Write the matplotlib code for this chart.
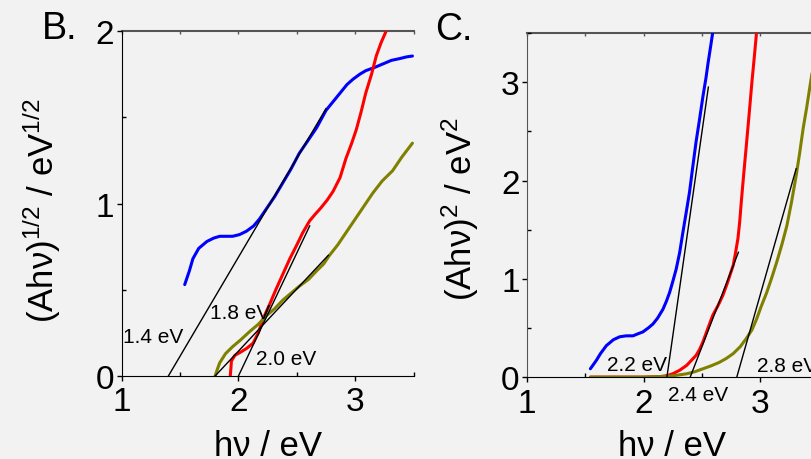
import matplotlib
matplotlib.use("Agg")
import matplotlib.pyplot as plt
from matplotlib.ticker import MultipleLocator

plt.rcParams['font.family'] = ['Liberation Sans', 'DejaVu Sans']
plt.rcParams['mathtext.default'] = 'regular'

BG = '#f2f2f2'

# panel B: (A hv)^(1/2) vs photon energy
b_blue_x = [1.54, 1.58, 1.61, 1.66, 1.73, 1.79, 1.84, 1.90, 1.95, 2.01, 2.07, 2.13, 2.18, 2.24, 2.31,
            2.38, 2.45, 2.52, 2.60, 2.67, 2.75, 2.81, 2.87, 2.93, 2.98, 3.04, 3.09, 3.17, 3.24, 3.31, 3.38, 3.44, 3.49]
b_blue_y = [0.53, 0.61, 0.68, 0.74, 0.78, 0.80, 0.81, 0.81, 0.81, 0.82, 0.84, 0.87, 0.91, 0.97, 1.04,
            1.12, 1.20, 1.29, 1.37, 1.44, 1.54, 1.59, 1.64, 1.69, 1.72, 1.75, 1.77, 1.79, 1.81, 1.83, 1.84, 1.85, 1.855]

b_red_x = [1.93, 1.935, 1.94, 1.97, 2.01, 2.07, 2.125, 2.17, 2.21, 2.27, 2.32, 2.38, 2.44, 2.50, 2.55,
           2.61, 2.66, 2.70, 2.76, 2.81, 2.87, 2.92, 2.97, 3.01, 3.05, 3.09, 3.14, 3.18, 3.22, 3.265]
b_red_y = [0.0, 0.04, 0.087, 0.12, 0.135, 0.16, 0.19, 0.25, 0.33, 0.42, 0.50, 0.59, 0.68, 0.76, 0.83,
           0.90, 0.94, 0.97, 1.02, 1.07, 1.15, 1.26, 1.35, 1.43, 1.53, 1.64, 1.75, 1.855, 1.93, 2.0]

b_olive_x = [1.80, 1.82, 1.84, 1.89, 1.95, 2.02, 2.10, 2.17, 2.24, 2.31, 2.38, 2.45, 2.52, 2.60, 2.67,
             2.73, 2.78, 2.85, 2.92, 2.98, 3.04, 3.10, 3.15, 3.23, 3.32, 3.40, 3.49]
b_olive_y = [0.0, 0.04, 0.077, 0.13, 0.17, 0.21, 0.26, 0.30, 0.35, 0.39, 0.44, 0.48, 0.52, 0.56, 0.61,
             0.65, 0.70, 0.76, 0.83, 0.89, 0.95, 1.01, 1.06, 1.13, 1.19, 1.27, 1.35]

# linear fits: x-intercept (band gap) and upper end point of each fit line
b_gap = [1.4, 1.8, 2.0]
b_fit_end_x = [2.75, 2.77, 2.61]
b_fit_end_y = [1.55, 0.70, 0.87]
b_lab_x = [1.01, 1.755, 2.15]
b_lab_y = [0.23, 0.37, 0.10]

# panel C: (A hv)^2 vs photon energy
c_blue_x = [1.543, 1.57, 1.594, 1.63, 1.68, 1.74, 1.794, 1.85, 1.909, 1.95, 1.994, 2.04, 2.08, 2.12, 2.166,
            2.195, 2.223, 2.25, 2.28, 2.31, 2.337, 2.365, 2.394, 2.42, 2.45, 2.48, 2.51, 2.535, 2.554, 2.575, 2.594]
c_blue_y = [0.085, 0.13, 0.17, 0.24, 0.32, 0.38, 0.41, 0.42, 0.42, 0.44, 0.46, 0.50, 0.54, 0.60, 0.69,
            0.77, 0.86, 0.97, 1.10, 1.27, 1.47, 1.67, 1.88, 2.12, 2.39, 2.62, 2.86, 3.04, 3.20, 3.36, 3.51]

c_red_x = [1.543, 1.80, 2.00, 2.14, 2.20, 2.25, 2.31, 2.37, 2.41, 2.45, 2.48, 2.51, 2.55, 2.594, 2.64,
           2.68, 2.72, 2.77, 2.79, 2.81, 2.825, 2.84, 2.86, 2.88, 2.905, 2.93, 2.95, 2.97]
c_red_y = [0.0, 0.0, 0.0, 0.005, 0.015, 0.034, 0.07, 0.12, 0.17, 0.22, 0.28, 0.36, 0.49, 0.63, 0.73,
           0.83, 0.96, 1.14, 1.27, 1.41, 1.58, 1.80, 2.07, 2.33, 2.66, 3.0, 3.25, 3.51]

c_olive_x = [1.543, 1.80, 2.00, 2.194, 2.28, 2.37, 2.44, 2.51, 2.58, 2.65, 2.71, 2.77, 2.83, 2.88, 2.93,
             2.97, 3.01, 3.057, 3.10, 3.143, 3.19, 3.23, 3.27, 3.31, 3.34, 3.37, 3.40, 3.43, 3.48]
c_olive_y = [0.0, 0.0, 0.0, 0.007, 0.018, 0.034, 0.055, 0.085, 0.115, 0.15, 0.19, 0.24, 0.31, 0.39, 0.48,
             0.59, 0.72, 0.86, 1.01, 1.17, 1.36, 1.54, 1.78, 2.05, 2.28, 2.53, 2.74, 2.97, 3.35]

c_gap = [2.2, 2.4, 2.8]
c_fit_end_x = [2.556, 2.814, 3.31]
c_fit_end_y = [2.95, 1.27, 2.12]
c_lab_x = [1.684, 2.208, 2.97]
c_lab_y = [0.13, -0.18, 0.12]

colors = ['#0000ff', '#ff0000', '#808000']

fig = plt.figure(figsize=(8.11, 4.6), dpi=100, facecolor=BG)
axB = fig.add_axes([0.150, 0.1804, 0.360, 0.750])
axC = fig.add_axes([0.650, 0.178, 0.359, 0.748])


def style_axis(ax, ylim, left_col):
    ax.set_facecolor(BG)
    ax.set_xlim(1, 3.5)
    ax.set_ylim(*ylim)
    ax.xaxis.set_major_locator(MultipleLocator(1))
    ax.xaxis.set_minor_locator(MultipleLocator(0.5))
    ax.yaxis.set_major_locator(MultipleLocator(1))
    ax.yaxis.set_minor_locator(MultipleLocator(0.5))
    ax.tick_params(which='major', direction='out', length=3.5, width=1, labelsize=24, pad=2)
    ax.tick_params(which='minor', direction='in', length=3, width=1)
    ax.tick_params(axis='x', which='major', pad=4)
    ax.spines['right'].set_visible(False)
    ax.spines['top'].set_visible(False)
    ax.spines['left'].set_color(left_col)
    ax.spines['bottom'].set_color('black')
    top = ax.secondary_xaxis('top')
    top.spines['top'].set_color('#555555')
    top.spines['top'].set_linewidth(1.5)
    top.xaxis.set_major_locator(MultipleLocator(0.5))
    top.tick_params(direction='in', length=2, width=1, color='#555555', labeltop=False)


style_axis(axB, (0, 2), 'black')
style_axis(axC, (0, 3.5), '#555555')

b_curves = [(b_blue_x, b_blue_y), (b_red_x, b_red_y), (b_olive_x, b_olive_y)]
c_curves = [(c_blue_x, c_blue_y), (c_red_x, c_red_y), (c_olive_x, c_olive_y)]

for ax, curves in [(axB, b_curves), (axC, c_curves)]:
    for (x, y), col in zip(curves, colors):
        ax.plot(x, y, color=col, lw=2.2, solid_capstyle='round', zorder=2)

# fit lines from the band-gap intercept up to where they leave the curve
for ax, gaps, ex, ey, lx, ly in [(axB, b_gap, b_fit_end_x, b_fit_end_y, b_lab_x, b_lab_y),
                                 (axC, c_gap, c_fit_end_x, c_fit_end_y, c_lab_x, c_lab_y)]:
    for g, x1, y1, tx, ty in zip(gaps, ex, ey, lx, ly):
        ax.plot([g, x1], [0, y1], color='black', lw=1.0, zorder=3)
        ax.text(tx, ty, f'{g:.1f} eV', fontsize=15, ha='left', va='center', clip_on=False, zorder=4)

fig.text(0.052, 0.915, 'B.', fontsize=27, ha='left', va='baseline')
fig.text(0.536, 0.913, 'C.', fontsize=27, ha='left', va='baseline')

fig.text(0.052, 0.541, '(Ahν)$^{1/2}$ / eV$^{1/2}$', fontsize=25, rotation=90, ha='center', va='center')
fig.text(0.568, 0.545, '(Ahν)$^{2}$ / eV$^{2}$', fontsize=25, rotation=90, ha='center', va='center')

fig.text(0.330, 0.009, 'hν / eV', fontsize=25, ha='center', va='baseline')
fig.text(0.829, 0.009, 'hν / eV', fontsize=25, ha='center', va='baseline')

fig.savefig('out.png', dpi=100, facecolor=BG)
